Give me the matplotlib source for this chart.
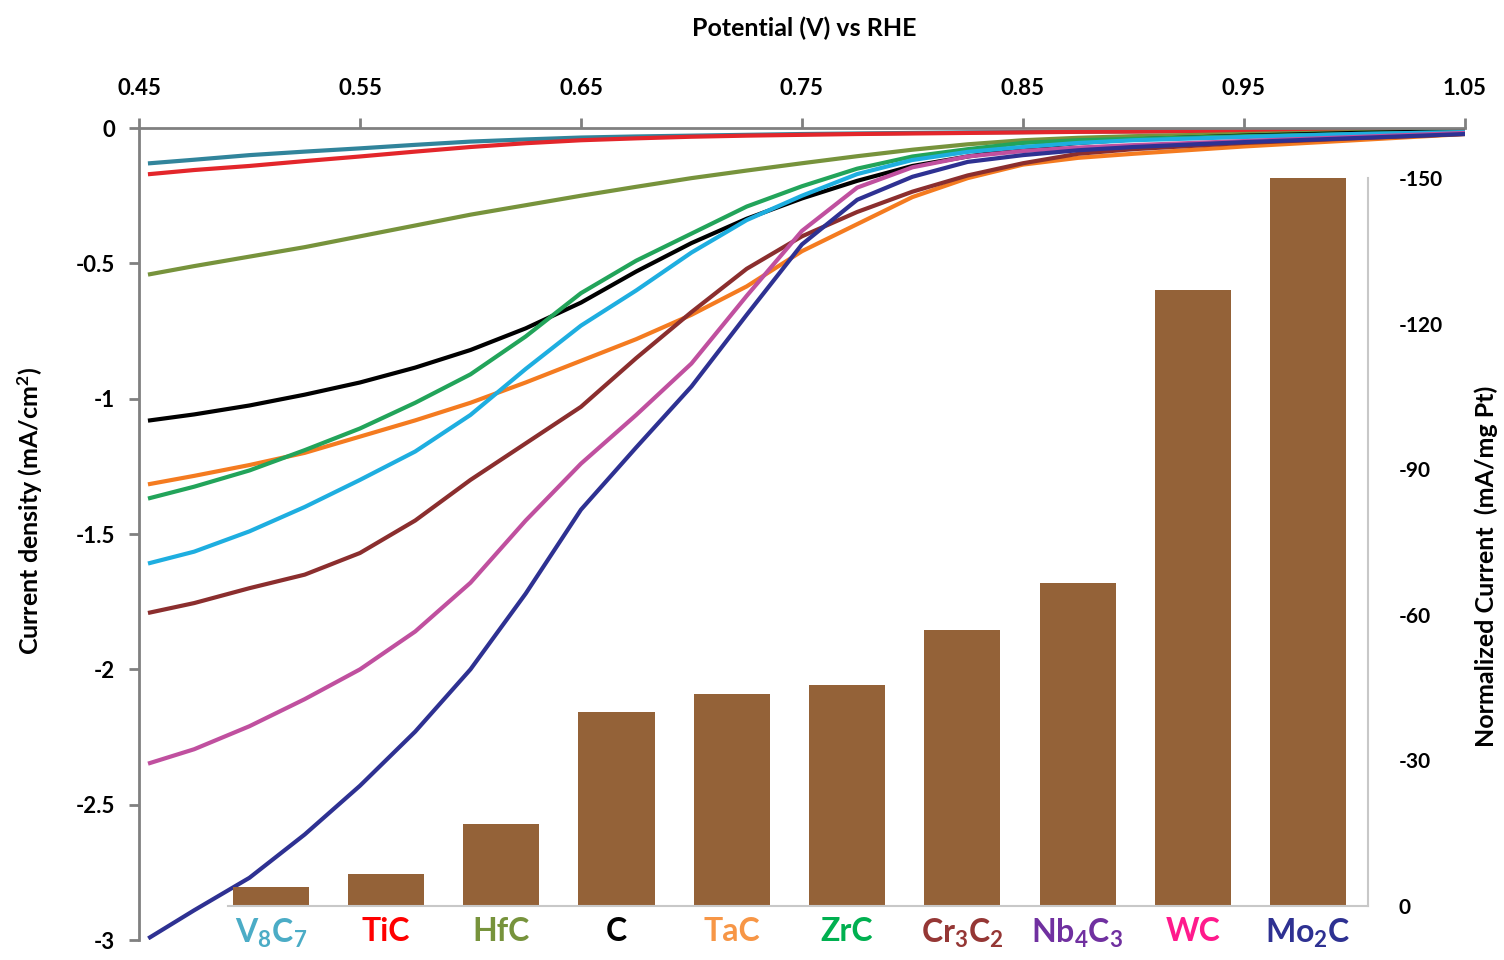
import numpy as np
import matplotlib
matplotlib.use("Agg")
import matplotlib.pyplot as plt

plt.rcParams['font.family'] = ['Lato', 'DejaVu Sans']
plt.rcParams['font.weight'] = 'bold'
plt.rcParams['mathtext.fontset'] = 'custom'
plt.rcParams['mathtext.rm'] = 'Lato:bold'
plt.rcParams['mathtext.bf'] = 'Lato:bold'
plt.rcParams['mathtext.default'] = 'rm'

# potential (V vs RHE)
potential = [0.455, 0.475, 0.50, 0.525, 0.55, 0.575, 0.60, 0.625, 0.65, 0.675, 0.70,
             0.725, 0.75, 0.775, 0.80, 0.825, 0.85, 0.875, 0.90, 0.95, 1.00, 1.05]

# current density curves (mA/cm2)
v8c7 = [-0.13, -0.117, -0.10, -0.087, -0.075, -0.062, -0.05, -0.042, -0.035, -0.031, -0.028,
        -0.025, -0.022, -0.020, -0.018, -0.016, -0.015, -0.013, -0.012, -0.010, -0.008, -0.006]
tic = [-0.17, -0.155, -0.14, -0.122, -0.105, -0.087, -0.07, -0.056, -0.045, -0.038, -0.032,
       -0.028, -0.025, -0.022, -0.02, -0.018, -0.016, -0.014, -0.013, -0.011, -0.009, -0.007]
hfc = [-0.54, -0.51, -0.475, -0.44, -0.40, -0.36, -0.32, -0.285, -0.25, -0.217, -0.185,
       -0.157, -0.13, -0.104, -0.08, -0.06, -0.045, -0.036, -0.03, -0.022, -0.015, -0.008]
carbon = [-1.08, -1.058, -1.025, -0.985, -0.94, -0.885, -0.82, -0.74, -0.645, -0.53, -0.425,
          -0.335, -0.26, -0.195, -0.14, -0.105, -0.075, -0.055, -0.042, -0.028, -0.018, -0.011]
tac = [-1.315, -1.285, -1.245, -1.20, -1.14, -1.08, -1.015, -0.94, -0.86, -0.78, -0.69,
       -0.585, -0.455, -0.355, -0.255, -0.185, -0.135, -0.11, -0.095, -0.068, -0.045, -0.022]
zrc = [-1.367, -1.325, -1.265, -1.19, -1.11, -1.015, -0.91, -0.77, -0.61, -0.49, -0.39,
       -0.29, -0.215, -0.15, -0.105, -0.078, -0.055, -0.045, -0.04, -0.03, -0.022, -0.015]
skyblue = [-1.607, -1.565, -1.49, -1.40, -1.30, -1.195, -1.06, -0.89, -0.73, -0.60, -0.46,
           -0.34, -0.25, -0.17, -0.118, -0.088, -0.07, -0.055, -0.045, -0.033, -0.022, -0.015]
cr3c2 = [-1.79, -1.755, -1.70, -1.65, -1.57, -1.45, -1.30, -1.165, -1.03, -0.85, -0.68,
         -0.52, -0.40, -0.31, -0.235, -0.175, -0.13, -0.095, -0.078, -0.055, -0.038, -0.022]
magenta = [-2.346, -2.295, -2.21, -2.11, -2.00, -1.86, -1.68, -1.45, -1.24, -1.06, -0.87,
           -0.62, -0.38, -0.22, -0.145, -0.105, -0.085, -0.072, -0.063, -0.048, -0.033, -0.018]
mo2c = [-2.99, -2.89, -2.77, -2.61, -2.43, -2.23, -2.00, -1.72, -1.41, -1.18, -0.955,
        -0.69, -0.43, -0.265, -0.18, -0.125, -0.10, -0.082, -0.07, -0.052, -0.037, -0.022]

curves = [v8c7, tic, hfc, carbon, tac, zrc, skyblue, cr3c2, magenta, mo2c]
curve_colors = ['#31849B', '#E3262B', '#77933C', '#000000', '#F47B20',
                '#22A45A', '#1EAEE0', '#8B2E2E', '#C0509F', '#2E3192']

# normalized current bars (mA/mg Pt)
catalysts = [r'V$_8$C$_7$', 'TiC', 'HfC', 'C', 'TaC', 'ZrC',
             r'Cr$_3$C$_2$', r'Nb$_4$C$_3$', 'WC', r'Mo$_2$C']
norm_current = [-4, -6.6, -16.9, -40, -43.7, -45.5, -56.9, -66.6, -127, -150]
label_colors = ['#4BACC6', '#FF0000', '#77933C', '#000000', '#F79646',
                '#00B050', '#953735', '#7030A0', '#FF1A8C', '#2E3192']

fig = plt.figure(figsize=(15.04, 9.6), dpi=100)
ax = fig.add_axes([0.0924, 0.0208, 0.8816, 0.8458])
for c, col in zip(curves, curve_colors):
    ax.plot(potential, c, color=col, lw=3, solid_joinstyle='round')
ax.set_xlim(0.45, 1.05)
ax.set_ylim(-3, 0)
ax.xaxis.tick_top()
ax.set_xticks([0.45, 0.55, 0.65, 0.75, 0.85, 0.95, 1.05])
ax.set_xticklabels(['0.45', '0.55', '0.65', '0.75', '0.85', '0.95', '1.05'])
ax.set_yticks([0, -0.5, -1, -1.5, -2, -2.5, -3])
ax.set_yticklabels(['0', '-0.5', '-1', '-1.5', '-2', '-2.5', '-3'])
ax.tick_params(axis='x', length=7, width=2, color='#808080', labelsize=16, pad=14)
ax.tick_params(axis='y', length=7, width=2, color='#808080', labelsize=16, pad=10)
for s in ['bottom', 'right']:
    ax.spines[s].set_visible(False)
for s in ['top', 'left']:
    ax.spines[s].set_color('#808080')
    ax.spines[s].set_linewidth(2)

fig.text(0.535, 0.97, 'Potential (V) vs RHE', ha='center', va='center', fontsize=18, fontweight='bold')
fig.text(0.02, 0.468, r'Current density (mA/cm$^2$)', ha='center', va='center',
         rotation=90, fontsize=18, fontweight='bold')

# bar inset
bx = fig.add_axes([0.1516, 0.05625, 0.758, 0.7583])
bx.set_facecolor('none')
xpos = np.arange(len(catalysts))
bx.bar(xpos, norm_current, width=0.66, color='#946238')
bx.set_xlim(-0.37, 9.52)
bx.set_ylim(0, -150)
bx.yaxis.tick_right()
bx.set_yticks([0, -30, -60, -90, -120, -150])
bx.set_yticklabels(['0', '-30', '-60', '-90', '-120', '-150'])
bx.set_xticks(xpos)
bx.set_xticklabels(catalysts)
for lbl, col in zip(bx.get_xticklabels(), label_colors):
    lbl.set_color(col)
bx.tick_params(axis='x', length=0, labelsize=23, pad=8)
bx.tick_params(axis='y', length=0, labelsize=15, pad=22)
for s in ['top', 'left']:
    bx.spines[s].set_visible(False)
for s in ['bottom', 'right']:
    bx.spines[s].set_color('#C8C8C8')
    bx.spines[s].set_linewidth(1.5)

fig.text(0.988, 0.41, 'Normalized Current  (mA/mg Pt)', ha='center', va='center',
         rotation=90, fontsize=18, fontweight='bold')

fig.savefig('out.png', dpi=100)
